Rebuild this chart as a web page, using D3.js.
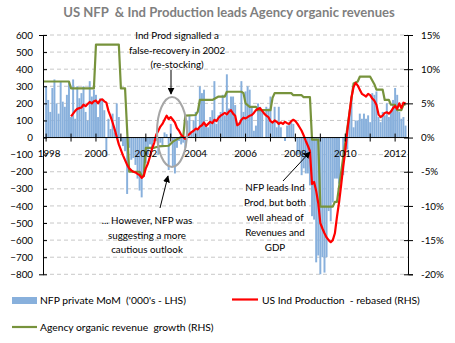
<!DOCTYPE html>
<html>
<head>
<meta charset="utf-8">
<script src="https://cdn.jsdelivr.net/npm/d3@7"></script>
<style>
  body { margin: 0; background: #fff; }
  svg text { font-family: Lato, "Open Sans", sans-serif; fill: #000; white-space: pre; }
</style>
</head>
<body>
<div id="chart"></div>
<script>
// private payrolls, monthly change in '000s, from Jan 1998
const nfpStart = "1998-01";
const nfpPrivate = [
  300, 220, 150, 290, 340, 200, 140, 330, 210, 180, 250, 330,
  120, 340, 110, 300, 230, 260, 300, 150, 100, 330, 240, 280,
  250, 120, 230, 220, 160, -110, 110, 50, 140, 30, 200, 120,
  -20, -50, -80, -330, -60, -130, -120, -160, -240, -310, -350, -200,
  -150, -100, -40, -80, -20, -20, -100, -30, -50, 30, 20, -190,
  80, -170, -210, -60, -20, -40, -30, -60, 100, 130, 30, 100,
  150, 50, 300, 260, 280, 80, 60, 120, 160, 330, 80, 130,
  150, 250, 130, 370, 170, 240, 240, 190, 70, 90, 330, 150,
  270, 300, 280, 180, 40, 70, 200, 180, 160, 0, 180, 170,
  240, 90, 180, 60, 180, 60, 0, -20, 70, 80, 90, 80,
  -10, -100, -100, -220, -180, -210, -210, -280, -460, -480, -730, -690,
  -800, -700, -790, -700, -430, -490, -380, -240, -240, -270, 0, -220,
  -20, -70, 140, 240, 60, 100, 100, 140, 110, 140, 110, 130,
  90, 260, 250, 270, 120, 90, 150, 130, 200, 120, 160, 220,
  290, 250, 150, 110, 120, 70
];

// industrial production, rebased, % (RHS), monthly from Jan 1999
const indProdStart = "1999-01";
const indProduction = [
  3.1, 3.5, 3.9, 4.2, 4.3, 4.4, 4.8, 4.6, 4.9, 5.2, 5.0, 5.3,
  5.4, 5.0, 5.5, 5.6, 5.3, 5.1, 3.9, 3.1, 2.2, 1.2, 0.1, -1.0,
  -1.8, -2.6, -3.3, -4.0, -4.5, -4.8, -5.0, -5.1, -5.3, -5.5, -5.9, -5.6,
  -4.5, -3.8, -2.8, -1.6, -0.8, 0.4, 1.0, 1.6, 2.0, 2.6, 3.2, 2.7,
  3.0, 2.6, 2.2, 1.4, 1.0, 0.4, 0.1, -0.2, 0.3, 0.5, 0.8, 1.0,
  1.3, 1.2, 1.6, 1.8, 2.2, 1.7, 2.0, 2.3, 2.1, 2.6, 2.4, 2.9,
  3.2, 3.4, 3.6, 3.4, 3.8, 4.0, 3.5, 3.2, 1.8, 2.0, 2.6, 2.9,
  2.8, 3.0, 3.2, 3.3, 3.6, 4.0, 4.2, 4.3, 3.9, 3.5, 3.2, 3.0,
  2.4, 2.2, 2.5, 2.3, 2.0, 2.2, 2.0, 2.3, 2.1, 2.0, 2.4, 2.6,
  2.4, 2.0, 1.5, 1.0, 0.3, -0.5, -1.2, -2.0, -6.8, -6.5, -7.8, -9.6,
  -12.5, -13.3, -14.0, -14.6, -15.0, -15.3, -15.0, -14.0, -11.6, -9.5, -7.0, -4.3,
  -2.0, 1.0, 3.5, 5.9, 7.4, 8.0, 7.6, 7.0, 6.4, 6.2, 6.0, 6.4,
  6.2, 5.7, 5.4, 4.8, 3.4, 3.0, 3.2, 3.6, 3.7, 3.5, 3.8, 4.3,
  4.6, 4.2, 5.0, 4.3, 5.1, 5.0
];

// agency organic revenue growth, % (RHS) - months where the series changes
const agencyMonths = [
  "1997-12", "1998-12", "1999-01", "1999-12", "2000-01", "2000-12", "2001-01", "2001-03",
  "2001-05", "2001-10", "2001-11", "2001-12", "2002-01", "2002-05", "2002-07", "2002-12",
  "2003-02", "2003-06", "2003-07", "2003-08", "2004-01", "2004-02", "2004-03", "2004-09",
  "2004-12", "2005-03", "2005-04", "2005-11", "2005-12", "2006-01", "2006-03", "2006-06",
  "2006-07", "2007-01", "2007-02", "2007-03", "2007-11", "2007-12", "2008-04", "2008-05",
  "2008-08", "2008-09", "2008-12", "2009-01", "2009-07", "2009-08", "2009-09", "2010-05",
  "2010-07", "2010-08", "2011-01", "2011-03", "2011-04", "2011-07", "2011-08", "2011-10",
  "2011-11", "2012-01", "2012-02", "2012-04", "2012-05", "2012-06"
];
const agencyGrowth = [
  8.2, 8.2, 7.2, 7.2, 13.6, 13.6, 7.2, 7.2,
  -5.0, -5.0, -5.6, -5.6, -1.5, -1.5, -1.3, -1.2,
  -0.6, 0.1, 0.1, 3.2, 3.3, 3.8, 5.5, 5.5,
  6.0, 6.0, 6.7, 6.7, 6.5, 5.0, 4.5, 4.5,
  4.0, 4.0, 5.8, 6.5, 6.5, 6.2, 6.2, 5.9,
  5.9, -0.3, -0.3, -10.1, -10.1, -9.4, -9.4, 7.9,
  8.2, 8.9, 8.9, 7.8, 7.0, 7.0, 5.5, 5.5,
  4.8, 4.8, 4.0, 4.0, 4.8, 4.8
];

const yearTicks = d3.range(1998, 2013);
const yearLabels = [1998, 2000, 2002, 2004, 2006, 2008, 2010, 2012];
const leftTicks = d3.range(-800, 601, 100);
const rightTicks = [-20, -15, -10, -5, 0, 5, 10, 15];

const width = 455, height = 343;
const plot = {left: 43, right: 408, top: 35, bottom: 274.3};
const fontSize = "9.8px";

// months counted from Jan 1998
const monthIndex = s => {
  const [y, m] = s.split("-").map(Number);
  return (y - 1998) * 12 + (m - 1);
};

const x = d3.scaleLinear().domain([-1.5, 174.2]).range([plot.left, plot.right]);
const yL = d3.scaleLinear().domain([-800, 600]).range([plot.bottom, plot.top]);
const yR = d3.scaleLinear().domain([-20, 15]).range([plot.bottom, plot.top]);
const step = x(1) - x(0);

const svg = d3.select("#chart").append("svg")
  .attr("width", width)
  .attr("height", height);

// title, sized to run from x=63 to x=395
const title = svg.append("text")
  .attr("x", 229).attr("y", 17)
  .attr("text-anchor", "middle")
  .style("font-size", "14px")
  .style("font-weight", "bold")
  .style("fill", "#7f7f7f")
  .text("US NFP  & Ind Production leads Agency organic revenues");
const titleW = title.node().getComputedTextLength();
title.style("font-size", (14 * 332 / titleW).toFixed(2) + "px");

// dashed gridlines
svg.append("g")
  .selectAll("line")
  .data(leftTicks.filter(d => d !== 0))
  .join("line")
    .attr("x1", plot.left).attr("x2", plot.right)
    .attr("y1", d => yL(d)).attr("y2", d => yL(d))
    .attr("stroke", "#c8c8c8")
    .attr("stroke-dasharray", "4,3");

// payroll bars
const nfp0 = monthIndex(nfpStart);
svg.append("g")
  .selectAll("rect")
  .data(nfpPrivate)
  .join("rect")
    .attr("x", (d, i) => x(nfp0 + i) - step * 0.47)
    .attr("width", step * 0.94)
    .attr("y", d => yL(Math.max(0, d)))
    .attr("height", d => Math.abs(yL(d) - yL(0)))
    .attr("fill", "#88b0dc");

// agency revenue growth line
const agencyPts = agencyMonths.map((m, i) => [monthIndex(m), agencyGrowth[i]]);
agencyPts[0][0] = x.domain()[0] + 0.05;
svg.append("path")
  .datum(agencyPts)
  .attr("fill", "none")
  .attr("stroke", "#77933c")
  .attr("stroke-width", 2.2)
  .attr("stroke-linejoin", "round")
  .attr("d", d3.line().x(d => x(d[0])).y(d => yR(d[1])));

// industrial production line
const ip0 = monthIndex(indProdStart);
svg.append("path")
  .datum(indProduction)
  .attr("fill", "none")
  .attr("stroke", "#ff0000")
  .attr("stroke-width", 2.2)
  .attr("stroke-linejoin", "round")
  .attr("d", d3.line().x((d, i) => x(ip0 + i)).y(d => yR(d)));

// left axis
const leftAxis = svg.append("g")
  .attr("transform", `translate(${plot.left},0)`)
  .call(d3.axisLeft(yL).tickValues(leftTicks).tickSize(4).tickPadding(6));
leftAxis.select(".domain").attr("stroke", "#000");
leftAxis.selectAll(".tick line").attr("x2", 4);
leftAxis.selectAll("text").style("font-size", fontSize);

// right axis
const rightAxis = svg.append("g")
  .attr("transform", `translate(${plot.right},0)`)
  .call(d3.axisRight(yR).tickValues(rightTicks).tickSize(5).tickPadding(8)
    .tickFormat(d => d + "%"));
rightAxis.selectAll(".tick line").attr("x1", -4);
rightAxis.selectAll("text").style("font-size", fontSize);

// x axis on the zero line
const xAxis = svg.append("g")
  .attr("transform", `translate(0,${yL(0)})`);
xAxis.append("line")
  .attr("x1", plot.left).attr("x2", plot.right)
  .attr("stroke", "#000");
xAxis.selectAll(".yt")
  .data(yearTicks)
  .join("line")
    .attr("class", "yt")
    .attr("x1", d => x((d - 1998) * 12)).attr("x2", d => x((d - 1998) * 12))
    .attr("y1", -4).attr("y2", 4)
    .attr("stroke", "#000");
xAxis.selectAll(".yl")
  .data(yearLabels)
  .join("text")
    .attr("class", "yl")
    .attr("x", d => x((d - 1998) * 12) + (d === 1998 ? 3 : 0))
    .attr("y", 19)
    .attr("text-anchor", "middle")
    .style("font-size", fontSize)
    .text(d => d);

// annotations
const note = (lines, cx, y0, dy) => {
  svg.append("text")
    .attr("text-anchor", "middle")
    .style("font-size", fontSize)
    .selectAll("tspan")
    .data(lines)
    .join("tspan")
      .attr("x", cx)
      .attr("y", (d, i) => y0 + i * dy)
      .text(d => d);
};
note(["Ind Prod signalled a", "false-recovery in 2002", "(re-stocking)"], 177, 39, 14.5);
note(["... However, NFP was", "suggesting a more", "cautious outlook"], 147, 224, 14.5);
note(["NFP leads Ind", "Prod, but both", "well ahead of", "Revenues and", "GDP"], 275, 191, 15);

svg.append("defs").append("marker")
  .attr("id", "head")
  .attr("viewBox", "0 0 10 10")
  .attr("refX", 9).attr("refY", 5)
  .attr("markerWidth", 7).attr("markerHeight", 7)
  .attr("orient", "auto")
  .append("path")
    .attr("d", "M0,0L10,5L0,10z")
    .attr("fill", "#000");

svg.append("ellipse")
  .attr("cx", 172).attr("cy", 132)
  .attr("rx", 15).attr("ry", 35)
  .attr("fill", "none")
  .attr("stroke", "#a6a6a6")
  .attr("stroke-width", 2);

[[171, 70, 171, 94], [160, 208, 168, 176], [283, 181, 310, 152]].forEach(a => {
  svg.append("line")
    .attr("x1", a[0]).attr("y1", a[1]).attr("x2", a[2]).attr("y2", a[3])
    .attr("stroke", "#000")
    .attr("stroke-width", 1)
    .attr("marker-end", "url(#head)");
});

// legend
const legend = svg.append("g").style("font-size", "10.3px");
legend.append("rect")
  .attr("x", 12).attr("y", 297).attr("width", 25).attr("height", 7)
  .attr("fill", "#88b0dc");
legend.append("text").attr("x", 40).attr("y", 304).text("NFP private MoM  ('000's - LHS)");
legend.append("line")
  .attr("x1", 232).attr("x2", 258).attr("y1", 299.5).attr("y2", 299.5)
  .attr("stroke", "#ff0000").attr("stroke-width", 2.2);
legend.append("text").attr("x", 262).attr("y", 304).text("US Ind Production  - rebased (RHS)");
legend.append("line")
  .attr("x1", 12).attr("x2", 37).attr("y1", 327).attr("y2", 327)
  .attr("stroke", "#77933c").attr("stroke-width", 2.2);
legend.append("text").attr("x", 40).attr("y", 331).text("Agency organic revenue  growth (RHS)");
</script>
</body>
</html>
